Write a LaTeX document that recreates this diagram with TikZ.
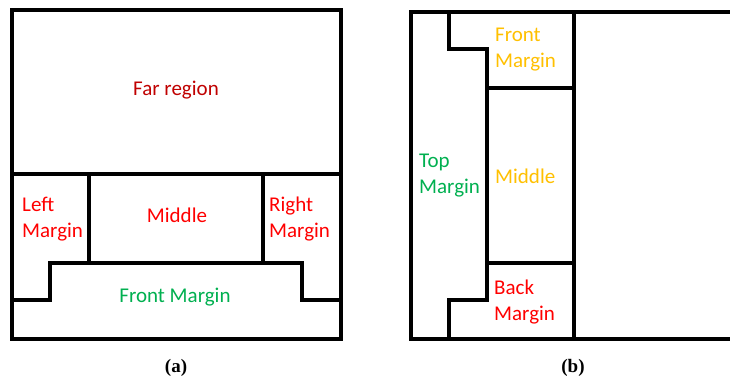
\documentclass[tikz,border=0pt]{standalone}
\usepackage{fontspec}
\newfontfamily\calfont{Carlito}
\newfontfamily\capfont{Liberation Serif}
\definecolor{lblred}{HTML}{FF0000}
\definecolor{lbldark}{HTML}{C00000}
\definecolor{lblgreen}{HTML}{00B050}
\definecolor{lblgold}{HTML}{FFC000}
\begin{document}
\begin{tikzpicture}[x=1pt,y=-1pt,
  outer/.style={line width=4pt},
  inner/.style={line width=3.2pt},
  lbl/.style={inner sep=0pt,font=\calfont\fontsize{21}{26}\selectfont,align=left},
  captext/.style={inner sep=0pt,font=\capfont\fontsize{19}{21}\selectfont\bfseries}]
\useasboundingbox[fill=white] (0,0) rectangle (730,381);
% ---- panel (a)
\draw[inner] (12,174) -- (341,174);
\draw[inner] (89,174) -- (89,263);
\draw[inner] (263,174) -- (263,263);
\draw[inner] (12,300) -- (50,300) -- (50,263) -- (302,263) -- (302,300) -- (341,300);
\draw[outer] (12,10) rectangle (341,339);
\node[lbl,text=lbldark] (far) at (176,90) {Far region};
\node[lbl,text=lblred,anchor=west] (lm) at (22,219) {Left\\Margin};
\node[lbl,text=lblred] (mid) at (177,215) {Middle};
\node[lbl,text=lblred,anchor=west] (rm) at (269,219) {Right\\Margin};
\node[lbl,text=lblgreen] (fm) at (175,297) {Front Margin};
% ---- panel (b)
\draw[inner] (574,12) -- (574,339);
\draw[inner] (487,88) -- (574,88);
\draw[inner] (487,263) -- (574,263);
\draw[inner] (449,12) -- (449,49) -- (487,49) -- (487,300) -- (449,300) -- (449,339);
\draw[outer] (731,12) -- (411,12) -- (411,339) -- (731,339);
\node[lbl,text=lblgold,anchor=west] (bfm) at (495,50) {Front\\Margin};
\node[lbl,text=lblgold,anchor=west] (bmid) at (495,176) {Middle};
\node[lbl,text=lblgreen,anchor=west] (btm) at (419,176) {Top\\Margin};
\node[lbl,text=lblred,anchor=west] (bbm) at (494,302) {Back\\Margin};
% ---- captions
\node[captext] (capa) at (176,368) {(a)};
\node[captext] (capb) at (573,368) {(b)};
\end{tikzpicture}
\end{document}
